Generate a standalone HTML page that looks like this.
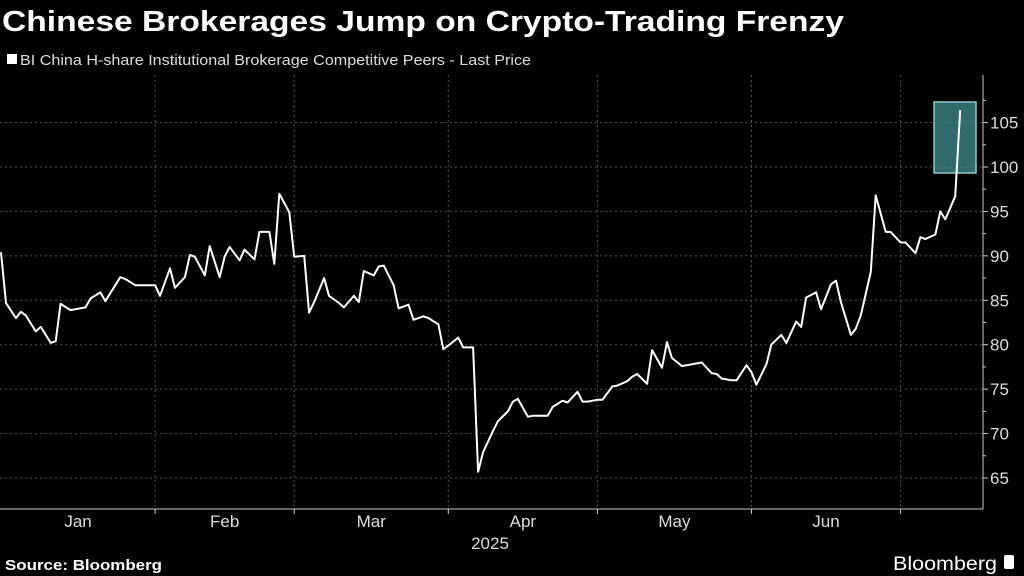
<!DOCTYPE html>
<html><head><meta charset="utf-8"><style>
html,body{margin:0;padding:0;background:#000;}
svg{display:block;}
text{font-family:"Liberation Sans Narrow","Liberation Sans",sans-serif;}
</style></head><body>
<svg id="chart" width="1024" height="576" viewBox="0 0 1024 576">
<rect width="1024" height="576" fill="#000"/>
<text x="2" y="31" fill="#fff" font-size="29" font-weight="bold" textLength="842" lengthAdjust="spacingAndGlyphs" style="font-family:'Liberation Sans',sans-serif">Chinese Brokerages Jump on Crypto-Trading Frenzy</text>
<rect x="7" y="54" width="10" height="10" fill="#fff"/>
<text x="20" y="65" fill="#ddd" font-size="15" textLength="511" lengthAdjust="spacingAndGlyphs">BI China H-share Institutional Brokerage Competitive Peers - Last Price</text>
<g id="grid"></g>
<rect x="934" y="102" width="42" height="71" fill="#3d8585" fill-opacity="0.8" stroke="#8cc9c9" stroke-width="1.5"/>
<path id="line" fill="none" stroke="#fff" stroke-width="2" stroke-linejoin="round"/>
<g id="axes"></g>
<text x="5" y="570" fill="#fff" font-size="15" font-weight="bold" textLength="157" lengthAdjust="spacingAndGlyphs">Source: Bloomberg</text>
<text x="893" y="570" fill="#fff" font-size="19" textLength="104" lengthAdjust="spacingAndGlyphs">Bloomberg</text>
<rect x="1004" y="555" width="10" height="14" rx="2" fill="#fff"/>
</svg>
<script>
const days = [0,1,3,4,5,7,8,10,11,12,14,15,17,18,20,21,22,24,25,27,28,29,31,32,34,35,37,38,39,41,42,44,45,46,48,49,51,52,54,55,56,58,59,61,62,63,65,66,68,69,71,72,73,75,76,77,79,80,82,83,85,86,88,89,90,92,93,95,96,97,99,100,102,103,104,106,107,109,110,111,113,114,116,117,118,120,121,123,124,126,127,128,130,131,133,134,135,137,138,140,141,143,144,145,147,148,150,151,152,154,155,157,158,160,161,162,164,165,167,168,169,171,172,173,175,176,178,179,181,182,184,185,186,188,189,190,192,193];
const values = [90.4,84.7,83.0,83.7,83.3,81.5,82.0,80.2,80.4,84.6,83.9,84.0,84.2,85.2,85.9,84.9,85.8,87.6,87.4,86.7,86.7,86.7,86.7,85.5,88.6,86.4,87.6,90.1,89.9,87.8,91.1,87.6,89.9,91.0,89.5,90.7,89.6,92.7,92.7,89.1,97.0,94.9,89.9,90.0,83.6,84.8,87.5,85.5,84.7,84.2,85.5,84.8,88.3,87.8,88.8,88.9,86.7,84.1,84.5,82.8,83.2,83.0,82.3,79.5,79.9,80.8,79.7,79.7,65.7,67.9,70.3,71.4,72.5,73.6,73.9,71.9,72.0,72.0,72.0,73.0,73.7,73.5,74.7,73.6,73.6,73.8,73.8,75.3,75.4,75.9,76.4,76.7,75.6,79.4,77.4,80.3,78.5,77.6,77.7,77.9,78.0,76.8,76.7,76.2,76.0,76.0,77.7,76.9,75.5,77.8,80.0,81.1,80.2,82.6,82.0,85.3,85.9,84.0,86.8,87.2,84.8,81.1,81.8,83.3,88.2,96.8,92.7,92.7,91.5,91.5,90.3,92.1,91.9,92.4,95.0,94.1,96.7,106.4];
const yTicks = [65,70,75,80,85,90,95,100,105];
const monthStarts = [31,59,90,120,151,181];
const monthLabels = ["Jan","Feb","Mar","Apr","May","Jun"];
const monthLabelDays = [15.5,45,74.5,105,135.5,166];

const NS="http://www.w3.org/2000/svg";
const xS = d => 1 + d*4.97;
const yS = v => 167 + (100 - v)*8.886;
const AX = 983, BASE = 509;
function mk(tag, attrs, parent){const e=document.createElementNS(NS,tag);for(const k in attrs)e.setAttribute(k,attrs[k]);parent.appendChild(e);return e;}
const grid=document.getElementById('grid'), axes=document.getElementById('axes');
yTicks.forEach(v=>{
  const l=mk('line',{x1:0,x2:AX,y1:yS(v),y2:yS(v),stroke:'#555','stroke-dasharray':'2,3','stroke-width':1},grid);
  
  
  const t=mk('line',{x1:AX,x2:AX+5,y1:yS(v),y2:yS(v),stroke:'#ccc'},axes);
  
  
  const tx=mk('text',{x:AX+7,y:yS(v)+6,fill:'#ddd','font-size':17},axes);
  tx.textContent=v;
  
  
});
[67.5,72.5,77.5,82.5,87.5,92.5,97.5,102.5,107.5].forEach(v=>{
  const t=mk('line',{x1:AX,x2:AX+3,y1:yS(v),y2:yS(v),stroke:'#ccc'},axes);
  
  
});
monthStarts.forEach(d=>{
  const l=mk('line',{x1:xS(d),x2:xS(d),y1:75,y2:BASE,stroke:'#555','stroke-dasharray':'2,3'},grid);
  
  
  const t=mk('line',{x1:xS(d),x2:xS(d),y1:BASE,y2:BASE+5,stroke:'#ccc'},axes);
  
  
});
monthLabels.forEach((m,i)=>{
  const t=mk('text',{x:xS(monthLabelDays[i]),y:527,fill:'#ddd','font-size':17,'text-anchor':'middle'},axes);
  t.textContent=m;
  
  
});
const yr=mk('text',{x:490,y:549,fill:'#ddd','font-size':17,'text-anchor':'middle'},axes);
yr.textContent='2025';


const xa=mk('line',{x1:0,x2:AX,y1:BASE,y2:BASE,stroke:'#ccc'},axes);


const ya=mk('line',{x1:AX,x2:AX,y1:75,y2:BASE,stroke:'#ccc'},axes);


document.getElementById('line').setAttribute('d',days.map((d,i)=>(i?'L':'M')+xS(d).toFixed(1)+','+yS(values[i]).toFixed(1)).join(''));
</script>
</body></html>
